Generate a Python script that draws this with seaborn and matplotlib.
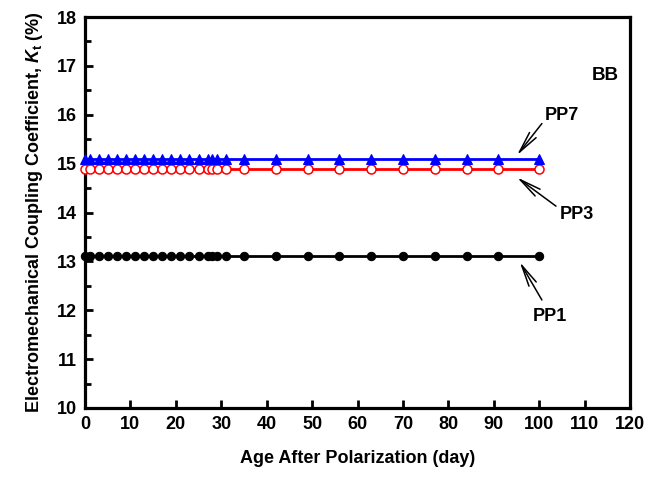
import matplotlib
matplotlib.use("Agg")
import matplotlib.pyplot as plt
import seaborn as sns
import pandas as pd
import numpy as np
from matplotlib.ticker import MultipleLocator

days = [0, 1, 3, 5, 7, 9, 11, 13, 15, 17, 19, 21, 23, 25, 27, 28, 29, 31,
        35, 42, 49, 56, 63, 70, 77, 84, 91, 100]
pp7 = [15.1] * len(days)
pp3 = [14.88] * len(days)
pp1 = [13.1] * len(days)

sns.set_theme(style="ticks")
plt.rcParams['font.family'] = ['Liberation Sans', 'DejaVu Sans']
plt.rcParams['font.weight'] = 'bold'
plt.rcParams['mathtext.fontset'] = 'custom'
plt.rcParams['mathtext.rm'] = 'Liberation Sans:bold'
plt.rcParams['mathtext.it'] = 'Liberation Sans:italic:bold'
plt.rcParams['mathtext.bf'] = 'Liberation Sans:bold'
for k in ['text.color', 'axes.labelcolor', 'xtick.color', 'ytick.color', 'axes.edgecolor']:
    plt.rcParams[k] = 'black'

df = pd.DataFrame({"day": days * 3,
                   "kt": pp7 + pp3 + pp1,
                   "series": ["PP7"] * len(days) + ["PP3"] * len(days) + ["PP1"] * len(days)})

fig = plt.figure(figsize=(6.64, 4.83), dpi=100)
ax = fig.add_axes([85/664, 1 - 408/483, 545/664, 391/483])

styles = {
    "PP1": dict(color="black", marker="o", markerfacecolor="black", markeredgecolor="black", markersize=6),
    "PP3": dict(color="red", marker="o", markerfacecolor="white", markeredgecolor="red", markersize=6.5, markeredgewidth=1.1),
    "PP7": dict(color="blue", marker="^", markerfacecolor="blue", markeredgecolor="blue", markersize=7),
}
for name in ["PP1", "PP3", "PP7"]:
    sub = df[df["series"] == name]
    sns.lineplot(data=sub, x="day", y="kt", ax=ax, linewidth=2, legend=False,
                 clip_on=False, zorder=3, **styles[name])

ax.set_xlim(0, 120)
ax.set_ylim(10, 18)
ax.xaxis.set_major_locator(MultipleLocator(10))
ax.yaxis.set_major_locator(MultipleLocator(1))
ax.yaxis.set_minor_locator(MultipleLocator(0.5))
ax.tick_params(axis="both", which="major", direction="in", length=6, width=2,
               labelsize=13, pad=6, top=False, right=False, colors="black")
ax.tick_params(axis="y", which="minor", direction="in", length=4, width=2, right=False, colors="black")
for lab in ax.get_xticklabels() + ax.get_yticklabels():
    lab.set_fontweight("bold")
for sp in ax.spines.values():
    sp.set_linewidth(2.3)
    sp.set_color("black")
    sp.set_visible(True)
ax.grid(False)

ax.set_xlabel("Age After Polarization (day)", fontsize=13, fontweight="bold", labelpad=12, color="black")
ax.set_ylabel(r"Electromechanical Coupling Coefficient, $K_{\mathrm{t}}$ (%)",
              fontsize=13, fontweight="bold", labelpad=8, color="black")

ax.text(114.6, 16.8, "BB", fontsize=13.5, fontweight="bold", ha="center", va="center", color="black")

arrow = dict(arrowstyle="->,head_length=1.3,head_width=0.25", color="black", lw=1.1,
             shrinkA=0, shrinkB=0)
ax.text(105, 15.99, "PP7", fontsize=13, fontweight="bold", ha="center", va="center", color="black")
ax.annotate("", xy=(95.1, 15.17), xytext=(100.6, 15.82), arrowprops=arrow)
ax.text(108.4, 13.95, "PP3", fontsize=13, fontweight="bold", ha="center", va="center", color="black")
ax.annotate("", xy=(95.1, 14.72), xytext=(103.7, 14.13), arrowprops=arrow)
ax.text(102.4, 11.87, "PP1", fontsize=13, fontweight="bold", ha="center", va="center", color="black")
ax.annotate("", xy=(95.7, 12.99), xytext=(100.6, 12.21), arrowprops=arrow)

fig.savefig("out.png", dpi=100)
